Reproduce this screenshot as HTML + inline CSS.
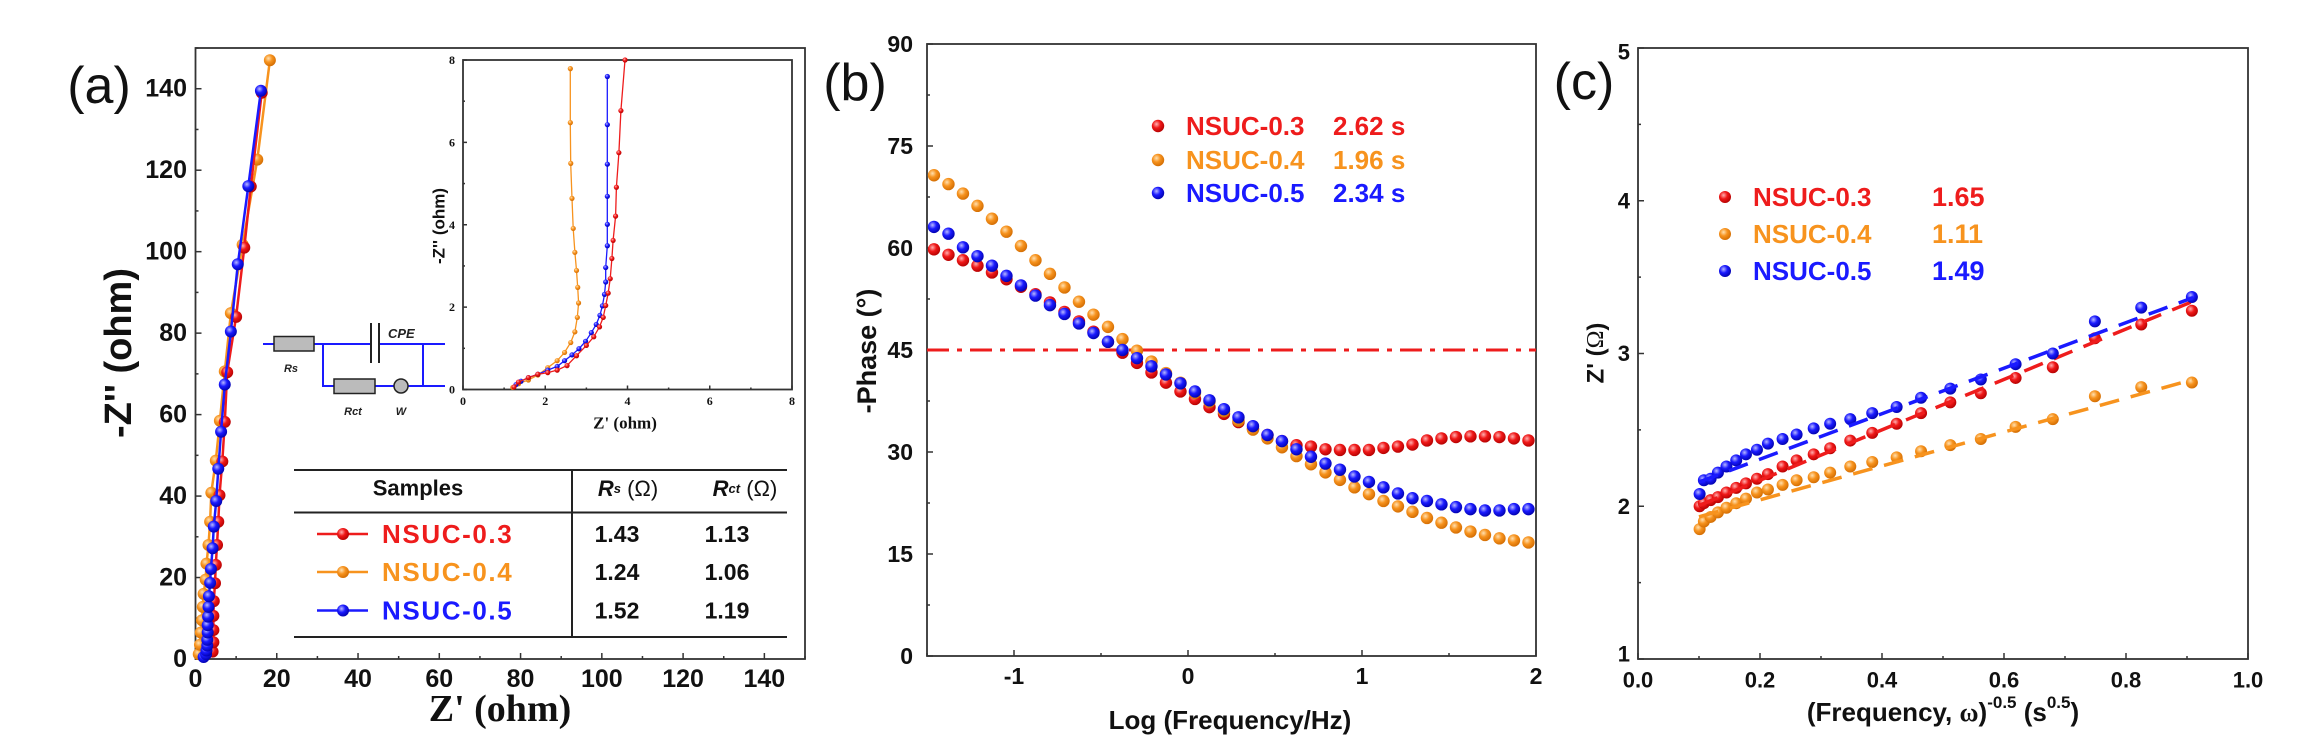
<!DOCTYPE html>
<html><head><meta charset="utf-8">
<style>
html,body{margin:0;padding:0;background:#fff;}
svg{display:block;font-family:"Liberation Sans",Arial,sans-serif;}
</style></head>
<body>
<svg id="fig" width="2302" height="754" viewBox="0 0 2302 754" xmlns="http://www.w3.org/2000/svg">
<defs>
<radialGradient id="gr" cx="0.38" cy="0.35" r="0.7"><stop offset="0" stop-color="#ffb0b0"/><stop offset="0.45" stop-color="#f01818"/><stop offset="1" stop-color="#b00000"/></radialGradient>
<radialGradient id="go" cx="0.38" cy="0.35" r="0.7"><stop offset="0" stop-color="#ffe0b0"/><stop offset="0.45" stop-color="#f7931e"/><stop offset="1" stop-color="#d06a00"/></radialGradient>
<radialGradient id="gb" cx="0.38" cy="0.35" r="0.7"><stop offset="0" stop-color="#b8b8ff"/><stop offset="0.45" stop-color="#1a1aff"/><stop offset="1" stop-color="#0000a8"/></radialGradient>
</defs>
<g id="pa"></g>
<g id="pb"></g>
<g id="pc"></g>
</svg>
<script>
// ---------- Panel (a) data: Nyquist ----------
const aRedX = [4.2,4.4,4.4,4.4,4.5,4.8,5.0,5.3,5.6,5.9,6.6,7.2,7.8,10.0,12.0,13.6,16.3];
const aRedY = [1.8,4.1,7.1,10.6,14.2,18.6,23.1,28.0,33.7,40.2,48.5,58.2,70.4,84.0,101,116,139];
const aOrangeX = [0.8,1.1,1.3,1.6,1.8,2.0,2.5,2.7,3.2,3.6,3.9,5.0,6.0,7.2,8.7,11.6,15.2,18.3];
const aOrangeY = [1.2,3.5,6.5,9.5,12.8,16,19.5,23.4,28.0,33.7,40.8,48.7,58.5,70.6,84.9,101.7,122.6,147];
const aBlueX = [2.0,2.6,2.7,2.9,2.9,3.0,3.0,3.1,3.2,3.3,3.6,3.8,4.2,4.5,5.1,5.6,6.3,7.2,8.7,10.4,13.0,16.1];
const aBlueY = [0.5,1.2,2.1,3.3,4.7,6.5,8.3,10.4,12.8,15.4,18.7,22.1,27.2,32.5,38.8,46.7,55.8,67.4,80.4,96.9,116.1,139.5];
// inset
const iRedX = [1.24,1.35,1.59,1.82,2.06,2.29,2.53,2.76,3.0,3.18,3.32,3.41,3.47,3.53,3.58,3.62,3.65,3.71,3.73,3.79,3.84,3.94];
const iRedY = [0.06,0.18,0.29,0.37,0.41,0.47,0.58,0.82,1.07,1.28,1.52,1.75,2.04,2.34,2.69,3.18,3.62,4.21,4.91,5.75,6.77,8.0];
const iOrangeX = [1.21,1.35,1.59,1.82,2.06,2.29,2.47,2.62,2.72,2.78,2.81,2.79,2.76,2.72,2.68,2.65,2.62,2.61,2.61];
const iOrangeY = [0.05,0.14,0.23,0.35,0.53,0.7,0.9,1.14,1.4,1.75,2.1,2.48,2.89,3.33,3.91,4.64,5.49,6.48,7.79];
const iBlueX = [1.29,1.41,1.59,1.82,2.06,2.29,2.47,2.65,2.82,2.98,3.12,3.24,3.33,3.39,3.44,3.47,3.47,3.51,3.51,3.51,3.51,3.51,3.51];
const iBlueY = [0.12,0.2,0.29,0.37,0.47,0.56,0.7,0.84,0.99,1.17,1.38,1.58,1.8,2.03,2.31,2.61,2.96,3.49,4.01,4.69,5.47,6.43,7.6];
const aXTicks = [0,20,40,60,80,100,120,140];
const aYTicks = [0,20,40,60,80,100,120,140];
const iTicks = [0,2,4,6,8];
const tableNames = ["NSUC-0.3","NSUC-0.4","NSUC-0.5"];
const tableRs = ["1.43","1.24","1.52"];
const tableRct = ["1.13","1.06","1.19"];

// ---------- Panel (b) data: Bode phase ----------
const bStart = -1.46, bStep = 1/12;
const bRed = [59.8,59.0,58.2,57.4,56.4,55.4,54.3,53.2,52.0,50.6,49.2,47.7,46.2,44.6,43.1,41.7,40.2,38.9,37.8,36.6,35.6,34.4,33.4,32.5,31.6,31.0,30.8,30.4,30.3,30.3,30.3,30.6,30.8,31.1,31.7,32.0,32.2,32.3,32.3,32.2,32.0,31.7];
const bOrange = [70.7,69.4,68.0,66.2,64.3,62.4,60.3,58.2,56.2,54.2,52.1,50.2,48.4,46.6,44.9,43.3,41.6,40.2,38.7,37.4,36.0,34.6,33.3,32.0,30.7,29.4,28.2,27.0,25.9,24.8,23.8,22.8,22.0,21.2,20.3,19.6,18.9,18.3,17.8,17.3,17.0,16.7];
const bBlue = [63.1,62.1,60.1,58.8,57.4,55.9,54.5,53.0,51.6,50.3,48.9,47.5,46.2,45.0,43.8,42.6,41.4,40.1,38.9,37.6,36.3,35.1,33.8,32.5,31.6,30.4,29.3,28.3,27.4,26.4,25.6,24.8,23.9,23.2,22.8,22.3,21.9,21.6,21.4,21.4,21.6,21.6];
const bXTicks = [-1,0,1,2];
const bYTicks = [0,15,30,45,60,75,90];
const bLegendNames = ["NSUC-0.3","NSUC-0.4","NSUC-0.5"];
const bLegendTimes = ["2.62 s","1.96 s","2.34 s"];

// ---------- Panel (c) data: Warburg ----------
const cX = [0.101,0.108,0.119,0.131,0.145,0.161,0.177,0.195,0.213,0.237,0.26,0.288,0.315,0.348,0.384,0.424,0.464,0.512,0.562,0.619,0.68,0.749,0.825,0.908];
const cRed = [2.0,2.02,2.04,2.06,2.09,2.12,2.15,2.18,2.21,2.26,2.30,2.34,2.38,2.43,2.48,2.54,2.61,2.68,2.74,2.84,2.91,3.10,3.19,3.28];
const cOrange = [1.85,1.9,1.93,1.96,1.99,2.02,2.05,2.09,2.11,2.14,2.17,2.19,2.22,2.26,2.29,2.32,2.36,2.40,2.44,2.52,2.57,2.72,2.78,2.81];
const cBlue = [2.08,2.17,2.18,2.22,2.26,2.30,2.34,2.37,2.41,2.44,2.47,2.51,2.54,2.57,2.61,2.65,2.71,2.77,2.83,2.93,3.0,3.21,3.30,3.37];
const cSlopes = [1.65,1.11,1.49];
const cIntercepts = [1.84,1.82,2.01];
const cFitRange = [0.1,0.91];
const cXTicks = [0,0.2,0.4,0.6,0.8,1.0];
const cYTicks = [1,2,3,4,5];
const cLegendNames = ["NSUC-0.3","NSUC-0.4","NSUC-0.5"];
const cLegendVals = ["1.65","1.11","1.49"];

const COL = ["#ee1c1c","#f7931e","#1a1aff"];
const GRAD = ["url(#gr)","url(#go)","url(#gb)"];
const NS = "http://www.w3.org/2000/svg";
function mk(parent, tag, attrs, text){
  const e = document.createElementNS(NS, tag);
  for (const k in attrs) e.setAttribute(k, attrs[k]);
  if (text !== undefined) e.textContent = text;
  parent.appendChild(e);
  return e;
}
function frame(g, x0, y0, x1, y1, name){
  const r = mk(g,'rect',{x:x0,y:y0,width:x1-x0,height:y1-y0,fill:'none',stroke:'#333','stroke-width':1.8});
  
  
}
function tick(g,x1,y1,x2,y2){
  const t = mk(g,'line',{x1:x1,y1:y1,x2:x2,y2:y2,stroke:'#333','stroke-width':1.5});
  
  
}
function label(g, x, y, txt, anchor, size, name, extra){
  const a = {x:x,y:y,'text-anchor':anchor,'font-size':size,'font-weight':'bold',fill:'#111','dominant-baseline':'central'};
  if (extra) for (const k in extra) a[k]=extra[k];
  const t = mk(g,'text',a,txt);
  
  
  return t;
}
function dot(g, x, y, r, i, name){
  const c = mk(g,'circle',{cx:x,cy:y,r:r,fill:GRAD[i]});
  
  
}
function poly(g, pts, color, w, name, dash){
  const a = {points:pts.map(p=>p[0].toFixed(1)+','+p[1].toFixed(1)).join(' '),fill:'none',stroke:color,'stroke-width':w};
  if (dash) a['stroke-dasharray']=dash;
  const p = mk(g,'polyline',a);
  
  
}

// ===== Panel A =====
(function(){
  const g = document.getElementById('pa');
  const X0=195.5, X1=805, Y0=659, Y1=48;
  const ax = v => X0 + v*(X1-X0)/150;
  const ay = v => Y0 - v*(Y0-Y1)/150;
  frame(g,X0,Y1,X1,Y0,'panel-a-frame');
  for (let v=0; v<=150; v+=10){ const L = v%20===0?6:3; tick(g,ax(v),Y0,ax(v),Y0-L); tick(g,X0,ay(v),X0+L,ay(v)); }
  aXTicks.forEach(v=>label(g,ax(v),679,String(v),'middle',25,'x-tick-label'));
  aYTicks.forEach(v=>label(g,187,ay(v),String(v),'end',25,'y-tick-label'));
  label(g,99,86,'(a)','middle',52,'panel-a-label',{'font-weight':'normal'});
  label(g,119,353,'-Z\'\' (ohm)','middle',38,'y-axis-title',{transform:'rotate(-90 119 353)'});
  label(g,500,709,'Z\' (ohm)','middle',38,'x-axis-title',{'font-family':'"Liberation Serif",serif'});
  const sets=[[aRedX,aRedY],[aOrangeX,aOrangeY],[aBlueX,aBlueY]];
  [1,0,2].forEach(i=>{
    const [xs,ys]=sets[i];
    poly(g, xs.map((x,k)=>[ax(x),ay(ys[k])]), COL[i], 2.5, 'series-line-'+tableNames[i].toLowerCase());
    xs.forEach((x,k)=>dot(g,ax(x),ay(ys[k]),6,i,'data-point'));
  });
  // inset
  const IX0=463, IX1=792, IY0=389.5, IY1=60;
  const ix = v => IX0 + v*(IX1-IX0)/8;
  const iy = v => IY0 - v*(IY0-IY1)/8;
  frame(g,IX0,IY1,IX1,IY0,'inset-frame');
  for (let v=0; v<=8; v+=1){ const L=v%2===0?4:2; tick(g,ix(v),IY0,ix(v),IY0-L); tick(g,IX0,iy(v),IX0+L,iy(v)); }
  iTicks.forEach(v=>label(g,ix(v),401,String(v),'middle',12,'inset-x-tick-label',{'font-family':'"Liberation Serif",serif'}));
  iTicks.forEach(v=>label(g,455,iy(v),String(v),'end',12,'inset-y-tick-label',{'font-family':'"Liberation Serif",serif'}));
  label(g,625,423,'Z\' (ohm)','middle',17,'inset-x-title',{'font-family':'"Liberation Serif",serif'});
  label(g,439,226,'-Z\'\' (ohm)','middle',17,'inset-y-title',{transform:'rotate(-90 439 226)'});
  const isets=[[iRedX,iRedY],[iOrangeX,iOrangeY],[iBlueX,iBlueY]];
  [1,2,0].forEach(i=>{
    const [xs,ys]=isets[i];
    poly(g, xs.map((x,k)=>[ix(x),iy(ys[k])]), COL[i], 1.3, 'inset-line');
    xs.forEach((x,k)=>dot(g,ix(x),iy(ys[k]),2.6,i,'inset-point'));
  });
  // circuit
  const cg = mk(g,'g',{});
  
  
  const B='#1a1aff';
  mk(cg,'path',{d:'M263 344 H371 M379 344 H445 M323 344 V386 H445 M423 344 V386',stroke:B,'stroke-width':2,fill:'none'});
  mk(cg,'rect',{x:274,y:336.5,width:40,height:14.5,fill:'#bbb',stroke:'#222','stroke-width':1.5});
  mk(cg,'rect',{x:334,y:379,width:41,height:14.5,fill:'#bbb',stroke:'#222','stroke-width':1.5});
  mk(cg,'path',{d:'M371 323 V363 M379 323 V363',stroke:'#222','stroke-width':2});
  mk(cg,'circle',{cx:401,cy:386,r:7,fill:'#bbb',stroke:'#222','stroke-width':1.5});
  mk(cg,'text',{x:388,y:338,'font-size':13,'font-style':'italic','font-weight':'bold',fill:'#222'},'CPE');
  mk(cg,'text',{x:291,y:372,'font-size':11,'font-style':'italic','font-weight':'bold',fill:'#222','text-anchor':'middle'},'Rs');
  mk(cg,'text',{x:353,y:415,'font-size':11,'font-style':'italic','font-weight':'bold',fill:'#222','text-anchor':'middle'},'Rct');
  mk(cg,'text',{x:401,y:415,'font-size':11,'font-style':'italic','font-weight':'bold',fill:'#222','text-anchor':'middle'},'W');
  // table
  const tg = mk(g,'g',{});
  
  
  mk(tg,'path',{d:'M294 470 H787 M294 512.5 H787 M294 637 H787 M572 470 V637',stroke:'#222','stroke-width':2,fill:'none'});
  label(tg,418,488,'Samples','middle',22,'table-header-samples');
  const h1 = label(tg,628,488,'','middle',22,'table-header-rs');
  mk(h1,'tspan',{'font-style':'italic'},'R');
  mk(h1,'tspan',{'font-size':13,'font-style':'italic'},'s');
  mk(h1,'tspan',{'font-weight':'normal'},' (Ω)');
  const h2 = label(tg,745,488,'','middle',22,'table-header-rct');
  mk(h2,'tspan',{'font-style':'italic'},'R');
  mk(h2,'tspan',{'font-size':13,'font-style':'italic'},'ct');
  mk(h2,'tspan',{'font-weight':'normal'},' (Ω)');
  const rowY=[534,572,610.5];
  tableNames.forEach((n,i)=>{
    const ln = mk(tg,'line',{x1:317,y1:rowY[i],x2:368,y2:rowY[i],stroke:COL[i],'stroke-width':2.5});
    
    
    dot(tg,343,rowY[i],6,i,'table-legend-marker');
    label(tg,382,rowY[i],n,'start',26,'table-sample-name',{fill:COL[i],'letter-spacing':'1.6'});
    label(tg,617,rowY[i],tableRs[i],'middle',23,'table-rs-value');
    label(tg,727,rowY[i],tableRct[i],'middle',23,'table-rct-value');
  });
})();

// ===== Panel B =====
(function(){
  const g = document.getElementById('pb');
  const X0=927, X1=1536, Y0=656, Y1=44;
  const bx = v => X0 + (v+1.5)*(X1-X0)/3.5;
  const by = v => Y0 - v*(Y0-Y1)/90;
  frame(g,X0,Y1,X1,Y0,'panel-b-frame');
  for (let v=-1.5; v<=2.001; v+=0.5){ const L=Math.abs(v-Math.round(v))<0.01?6:3; tick(g,bx(v),Y0,bx(v),Y0-L); }
  for (let v=0; v<=90; v+=7.5){ const L=v%15===0?6:3; tick(g,X0,by(v),X0+L,by(v)); }
  bXTicks.forEach(v=>label(g,bx(v),676,String(v),'middle',23,'x-tick-label'));
  bYTicks.forEach(v=>label(g,913,by(v),String(v),'end',23,'y-tick-label'));
  label(g,855,83,'(b)','middle',52,'panel-b-label',{'font-weight':'normal'});
  label(g,867,351,'-Phase (°)','middle',27,'y-axis-title',{transform:'rotate(-90 867 351)'});
  label(g,1230,720,'Log (Frequency/Hz)','middle',26,'x-axis-title');
  const ref = mk(g,'line',{x1:X0,y1:by(45),x2:X1,y2:by(45),stroke:'#ee1c1c','stroke-width':3,'stroke-dasharray':'22 8 5 8'});
  
  
  const series=[bRed,bOrange,bBlue];
  [0,1,2].forEach(i=>{
    series[i].forEach((v,k)=>dot(g,bx(bStart+k*bStep),by(v),6.2,i,'data-point'));
  });
  const ly=[126,160,193];
  bLegendNames.forEach((n,i)=>{
    dot(g,1158,ly[i],6.2,i,'legend-marker');
    label(g,1186,ly[i],n,'start',26,'legend-entry',{fill:COL[i]});
    label(g,1333,ly[i],bLegendTimes[i],'start',26,'legend-time',{fill:COL[i]});
  });
})();

// ===== Panel C =====
(function(){
  const g = document.getElementById('pc');
  const X0=1638, X1=2248, Y0=659, Y1=48;
  const cx = v => X0 + v*(X1-X0);
  const cy = v => Y0 - (v-1)*(Y0-Y1)/4;
  frame(g,X0,Y1,X1,Y0,'panel-c-frame');
  for (let v=0; v<=1.0001; v+=0.1){ const L=Math.round(v*10)%2===0?6:3; tick(g,cx(v),Y0,cx(v),Y0-L); }
  for (let v=1; v<=5.001; v+=0.5){ const L=Math.abs(v-Math.round(v))<0.01?6:3; tick(g,X0,cy(v),X0+L,cy(v)); }
  cXTicks.forEach(v=>label(g,cx(v),680,v.toFixed(1),'middle',22,'x-tick-label'));
  cYTicks.forEach(v=>label(g,1630,cy(v)+(v===5?4:v===1?-5:0),String(v),'end',22,'y-tick-label'));
  label(g,1584,82,'(c)','middle',52,'panel-c-label',{'font-weight':'normal'});
  const yt = label(g,1596,353,'Z\' (','middle',24,'y-axis-title',{transform:'rotate(-90 1596 353)'});
  mk(yt,'tspan',{'font-family':'"Liberation Serif",serif','font-weight':'normal'},'Ω');
  mk(yt,'tspan',{},')');
  const xt = label(g,1943,712,'(Frequency, ','middle',26,'x-axis-title');
  mk(xt,'tspan',{'font-family':'"Liberation Serif",serif'},'ω');
  mk(xt,'tspan',{},')');
  mk(xt,'tspan',{'font-size':17,dy:-10},'-0.5');
  mk(xt,'tspan',{dy:10},' (s');
  mk(xt,'tspan',{'font-size':17,dy:-10},'0.5');
  mk(xt,'tspan',{dy:10},')');
  const series=[cRed,cOrange,cBlue];
  [1,0,2].forEach(i=>{
    series[i].forEach((v,k)=>dot(g,cx(cX[k]),cy(v),6,i,'data-point'));
    poly(g,[[cx(cFitRange[0]),cy(cIntercepts[i]+cSlopes[i]*cFitRange[0])],[cx(cFitRange[1]),cy(cIntercepts[i]+cSlopes[i]*cFitRange[1])]],COL[i],3.5,'fit-line','20 12');
  });
  const ly=[197,234,271];
  cLegendNames.forEach((n,i)=>{
    dot(g,1725,ly[i],6,i,'legend-marker');
    label(g,1753,ly[i],n,'start',26,'legend-entry',{fill:COL[i]});
    label(g,1932,ly[i],cLegendVals[i],'start',27,'legend-slope',{fill:COL[i]});
  });
})();
</script>
</body></html>
